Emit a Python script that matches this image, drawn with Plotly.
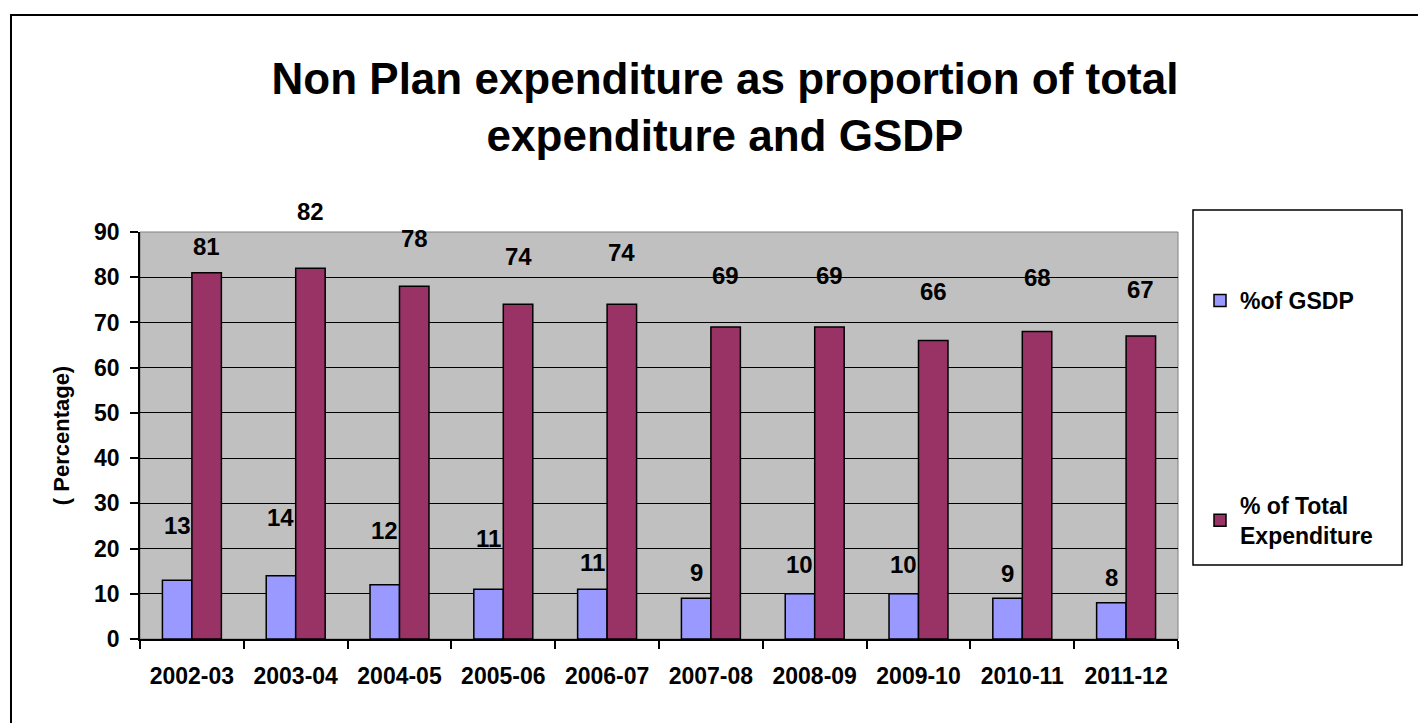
import plotly.graph_objects as go

years = ["2002-03", "2003-04", "2004-05", "2005-06", "2006-07",
         "2007-08", "2008-09", "2009-10", "2010-11", "2011-12"]
gsdp = [13, 14, 12, 11, 11, 9, 10, 10, 9, 8]
total_exp = [81, 82, 78, 74, 74, 69, 69, 66, 68, 67]

# label offsets (pixels above bar top), as placed in the original
gsdp_label_shift = [55, 58, 54, 51, 27, 26, 29, 29, 25, 25]
total_label_shift = [26, 57, 48, 48, 52, 51, 51, 49, 54, 47]

FONT = "Liberation Sans, Arial, sans-serif"
OFF = 8  # page body margin
W, H = 1426 - OFF, 723 - OFF
L, R, T, B = 140 - OFF, 1178 - OFF, 232 - OFF, 639 - OFF


def px(xpage):
    return (xpage - OFF - L) / (R - L)


def py(ypage):
    return (B - (ypage - OFF)) / (B - T)


fig = go.Figure()
fig.add_trace(go.Bar(
    x=years, y=gsdp, name="%of GSDP",
    marker=dict(color="#9999FF", line=dict(color="black", width=1.5)),
    legendgroup="a",
))
fig.add_trace(go.Bar(
    x=years, y=total_exp, name="% of Total<br>Expenditure",
    marker=dict(color="#993366", line=dict(color="black", width=1.5)),
    legendgroup="b",
))

bar_half = (1 - 0.432) * (R - L) / len(years) / 4
lab_font = dict(family=FONT, size=24, color="black", weight="bold")
annotations = []
for yr, v, s in zip(years, gsdp, gsdp_label_shift):
    annotations.append(dict(x=yr, y=v, xref="x", yref="y", text=str(v),
                            showarrow=False, xshift=-bar_half, yshift=s,
                            font=lab_font))
for yr, v, s in zip(years, total_exp, total_label_shift):
    annotations.append(dict(x=yr, y=v, xref="x", yref="y", text=str(v),
                            showarrow=False, xshift=bar_half, yshift=s,
                            font=lab_font))

shapes = [
    # outer chart border
    dict(type="rect", xref="paper", yref="paper",
         x0=px(11), x1=px(1440), y0=py(740), y1=py(15),
         line=dict(color="black", width=2), layer="below"),
    # plot area border
    dict(type="rect", xref="paper", yref="paper", x0=0, x1=1, y0=0, y1=1,
         line=dict(color="#808080", width=1), layer="below"),
    # legend box
    dict(type="rect", xref="paper", yref="paper",
         x0=px(1193), x1=px(1402), y0=py(565), y1=py(210),
         line=dict(color="black", width=1.5)),
]

fig.update_layout(
    width=W, height=H,
    margin=dict(l=L, r=W - R, t=T, b=H - B, autoexpand=False),
    paper_bgcolor="white",
    plot_bgcolor="#C0C0C0",
    barmode="group", bargap=0.432, bargroupgap=0,
    font=dict(family=FONT, color="black", weight="bold"),
    title=dict(text="Non Plan expenditure as proportion of total<br>expenditure and GSDP",
               x=px(725), xref="paper", xanchor="center",
               y=1 - (94 - OFF) / H, yref="container", yanchor="middle",
               font=dict(family=FONT, size=44, color="black", weight="bold")),
    showlegend=True,
    legend=dict(x=px(1200), xanchor="left", y=py(279), yanchor="top",
                font=dict(family=FONT, size=23, color="black", weight="bold"),
                bgcolor="rgba(0,0,0,0)", borderwidth=0,
                traceorder="grouped", tracegroupgap=172, itemclick=False),
    annotations=annotations,
    shapes=shapes,
)
fig.update_xaxes(
    type="category",
    showline=True, linecolor="black", linewidth=1.5,
    ticks="outside", tickson="boundaries", ticklen=8, tickcolor="black", tickwidth=1.5,
    tickfont=dict(family=FONT, size=23, color="black", weight="bold"),
    ticklabelstandoff=16,
    showgrid=False, fixedrange=True,
)
fig.update_yaxes(
    range=[0, 90], dtick=10, tick0=0,
    showline=True, linecolor="black", linewidth=1.5,
    ticks="outside", ticklen=8, tickcolor="black", tickwidth=1.5,
    showgrid=True, gridcolor="black", gridwidth=1.2,
    zeroline=False,
    tickfont=dict(family=FONT, size=23, color="black", weight="bold"),
    ticklabelstandoff=6,
    title=dict(text="( Percentage)", standoff=18,
               font=dict(family=FONT, size=22, color="black", weight="bold")),
    fixedrange=True,
)

fig.write_html("out.html")
